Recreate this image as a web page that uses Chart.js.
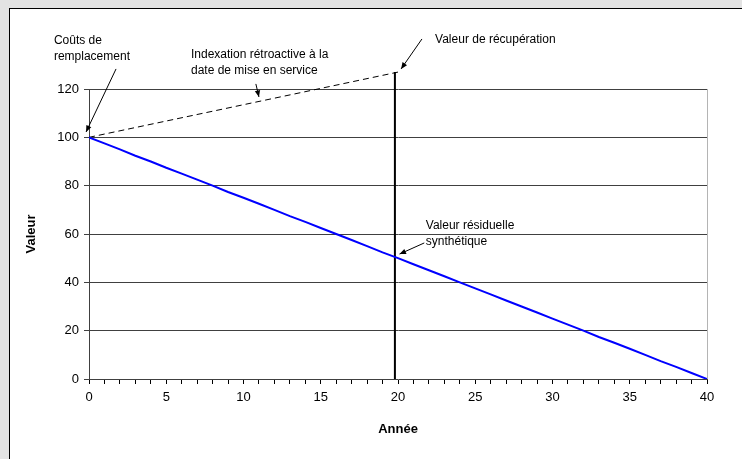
<!DOCTYPE html>
<html>
<head>
<meta charset="utf-8">
<script src="https://cdn.jsdelivr.net/npm/chart.js@4/dist/chart.umd.min.js"></script>
<style>
  html, body { margin: 0; padding: 0; background: #e3e3e3; }
  #panel { position: absolute; left: 9px; top: 8px; width: 800px; height: 500px; background: #fff; border: 1px solid #000; box-sizing: border-box; }
  #wrap { position: absolute; left: 0; top: 0; width: 742px; height: 459px; }
</style>
</head>
<body>
<div id="panel"></div>
<div id="wrap"><canvas id="graphique" width="742" height="459"></canvas></div>
<script>
// Années et valeurs
var annees = [0, 1, 2, 3, 4, 5, 6, 7, 8, 9, 10, 11, 12, 13, 14, 15, 16, 17, 18, 19, 20,
              21, 22, 23, 24, 25, 26, 27, 28, 29, 30, 31, 32, 33, 34, 35, 36, 37, 38, 39, 40];
var valeurResiduelle = [100, 97.5, 95, 92.4, 90, 87.4, 85, 82.5, 80, 77.4, 75, 72.5, 70, 67.4, 65, 62.5, 60, 57.5, 55, 52.4, 50,
                        47.5, 45, 42.5, 40, 37.5, 35, 32.5, 30, 27.5, 25, 22.5, 20, 17.4, 15, 12.5, 10, 7.4, 5, 2.5, 0];

// Indexation rétroactive (pointillés)
var anneesIndex = [0, 20];
var valeurIndexee = [100, 127];

// Ligne verticale de récupération
var anneeRecup = [19.8, 19.8];
var valeurRecup = [0, 127];

var ticksY = [0, 20, 40, 60, 80, 100, 120];

// Annotations (en unités du graphique)
var annotations = [
  { lignes: ["Coûts de", "remplacement"], x: -2.27, y: 138.5, de: [1.75, 128.3], vers: [-0.19, 102.2] },
  { lignes: ["Indexation rétroactive à la", "date de mise en service"], x: 6.6, y: 132.7, de: [10.8, 122.1], vers: [11.0, 116.7] },
  { lignes: ["Valeur de récupération"], x: 22.4, y: 139, de: [21.55, 140.7], vers: [20.2, 128.3] },
  { lignes: ["Valeur résiduelle", "synthétique"], x: 21.8, y: 62.2, de: [21.7, 56.3], vers: [20.1, 51.7] }
];

function points(xs, ys) {
  return xs.map(function (x, i) { return { x: x, y: ys[i] }; });
}

var pluginAnnotations = {
  id: 'annotations',
  afterDraw: function (chart) {
    var ctx = chart.ctx;
    var sx = chart.scales.x, sy = chart.scales.y;
    ctx.save();
    ctx.fillStyle = '#000';
    ctx.strokeStyle = '#000';
    ctx.font = '12px "Liberation Sans", Arial, sans-serif';
    ctx.textBaseline = 'alphabetic';
    annotations.forEach(function (a) {
      var tx = sx.getPixelForValue(a.x), ty = sy.getPixelForValue(a.y);
      a.lignes.forEach(function (l, i) { ctx.fillText(l, tx, ty + i * 16); });
      var x1 = sx.getPixelForValue(a.de[0]), y1 = sy.getPixelForValue(a.de[1]);
      var x2 = sx.getPixelForValue(a.vers[0]), y2 = sy.getPixelForValue(a.vers[1]);
      ctx.lineWidth = 1;
      ctx.beginPath(); ctx.moveTo(x1, y1); ctx.lineTo(x2, y2); ctx.stroke();
      var ang = Math.atan2(y2 - y1, x2 - x1);
      ctx.beginPath();
      ctx.moveTo(x2, y2);
      ctx.lineTo(x2 - 7 * Math.cos(ang - 0.4), y2 - 7 * Math.sin(ang - 0.4));
      ctx.lineTo(x2 - 7 * Math.cos(ang + 0.4), y2 - 7 * Math.sin(ang + 0.4));
      ctx.closePath(); ctx.fill();
    });
    ctx.restore();
  }
};

Chart.defaults.font.family = '"Liberation Sans", Arial, sans-serif';
Chart.defaults.color = '#000';

new Chart(document.getElementById('graphique').getContext('2d'), {
  type: 'line',
  data: {
    datasets: [
      {
        data: points(annees, valeurResiduelle),
        borderColor: '#0000ff', borderWidth: 2, pointRadius: 0, tension: 0
      },
      {
        data: points(anneesIndex, valeurIndexee),
        borderColor: '#000', borderWidth: 1, borderDash: [6, 4], pointRadius: 0, clip: false
      },
      {
        data: points(anneeRecup, valeurRecup),
        borderColor: '#000', borderWidth: 2, pointRadius: 0, clip: false
      }
    ]
  },
  options: {
    responsive: false,
    animation: false,
    layout: { padding: { left: 0, right: 35, top: 89, bottom: 0 } },
    plugins: { legend: { display: false }, tooltip: { enabled: false } },
    scales: {
      x: {
        type: 'linear', min: 0, max: 40,
        afterFit: function (s) { s.height = 80; },
        ticks: {
          stepSize: 1, autoSkip: false, maxRotation: 0, padding: 6,
          font: { size: 13 },
          callback: function (v) { return v % 5 === 0 ? v : ''; }
        },
        grid: {
          color: function (c) { return c.tick && c.tick.value === 40 ? '#b4b4b4' : 'transparent'; },
          tickColor: '#000', tickLength: 5
        },
        border: { color: '#404040', width: 1 },
        title: { display: true, text: 'Année', font: { size: 13, weight: 'bold' }, padding: { bottom: 22 } }
      },
      y: {
        min: 0, max: 120,
        afterFit: function (s) { s.width = 89; },
        afterBuildTicks: function (s) { s.ticks = ticksY.map(function (v) { return { value: v }; }); },
        ticks: { padding: 5, font: { size: 13 } },
        grid: {
          color: function (c) { return c.tick && c.tick.value === 0 ? 'transparent' : '#404040'; },
          tickColor: '#404040', tickLength: 5
        },
        border: { color: '#404040', width: 1 },
        title: { display: true, text: 'Valeur', font: { size: 13, weight: 'bold' }, padding: { top: 24 } }
      }
    }
  },
  plugins: [pluginAnnotations]
});
</script>
</body>
</html>
